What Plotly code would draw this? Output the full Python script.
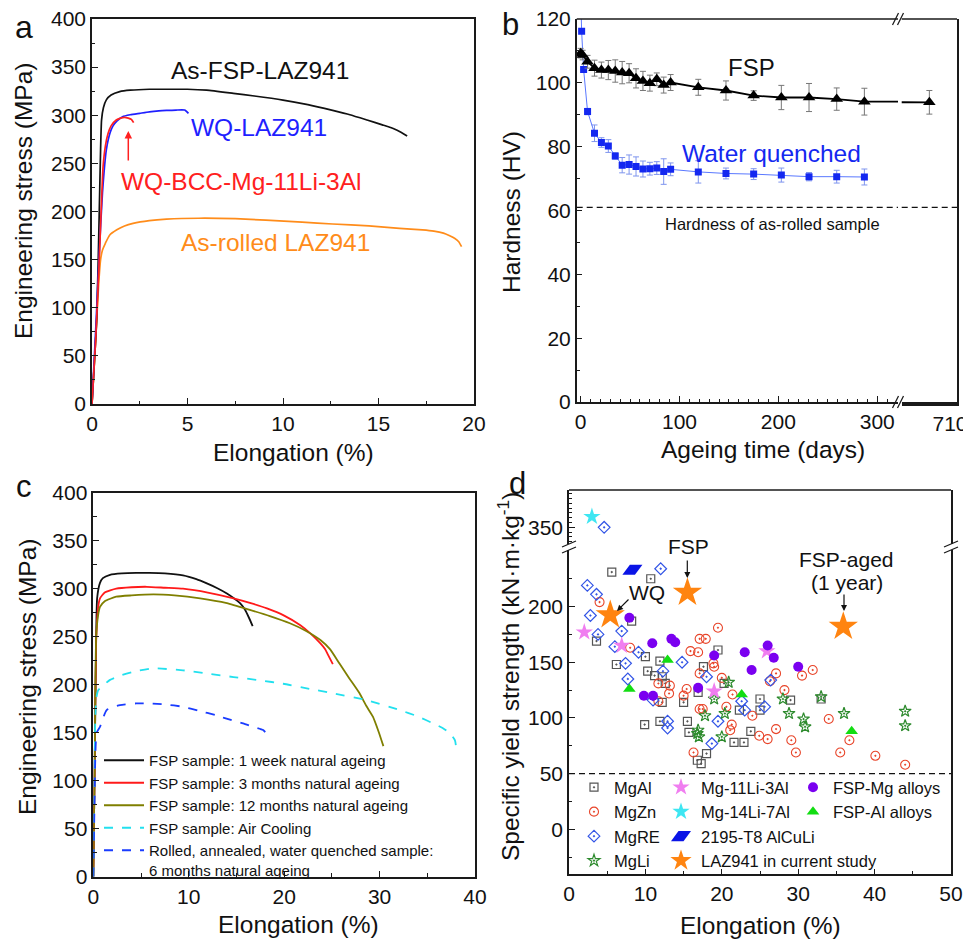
import plotly.graph_objects as go

W, H = 971, 940
OFF = 8                      # page body margin of the browser
FW, FH = W - OFF, H - OFF    # figure size so that it fills the window
FONT = "Liberation Sans, Arial, sans-serif"

# ---------------- Panel a : tensile curves ----------------
a_fsp_x = [0, 0.25, 0.38, 0.45, 0.5, 0.6, 0.75, 1.0, 1.45, 2, 3, 4, 5, 6, 7.4, 8.5, 10, 11.3, 12.6, 13.5, 14.4, 15.2, 15.8, 16.2, 16.5]
a_fsp_y = [0, 90, 200, 265, 295, 308, 316, 321, 324.5, 326, 327, 327, 327, 326, 322.7, 320, 315.8, 311, 305, 300.5, 295, 290, 286, 282, 278.4]
a_wq_x = [0, 0.2, 0.4, 0.55, 0.75, 0.95, 1.1, 1.3, 1.6, 2, 2.5, 3, 3.5, 3.9, 4.4, 4.85, 5.05]
a_wq_y = [0, 80, 165, 220, 264, 282, 289, 294, 298.5, 300.5, 302, 303.5, 304.5, 305, 305.4, 305.4, 302]
a_bcc_x = [0, 0.2, 0.4, 0.58, 0.7, 0.84, 1.0, 1.27, 1.5, 1.7, 1.9, 2.06, 2.18]
a_bcc_y = [0, 70, 160, 246.6, 268, 281, 289, 295, 297, 297.8, 297, 295.7, 292.3]
a_roll_x = [0, 0.2, 0.35, 0.45, 0.55, 0.7, 0.93, 1.3, 1.7, 2.15, 3, 3.9, 5.6, 7.5, 9.1, 11, 12.6, 14.5, 16.1, 17.3, 17.9, 18.4, 18.7, 19.0, 19.2, 19.35]
a_roll_y = [0, 70, 125, 150, 160, 167, 175.6, 181, 185, 187.7, 190.5, 192, 193, 192.5, 191, 189, 187, 185, 182.5, 181, 179.7, 177.5, 175, 172, 168.6, 163.5]

# ---------------- Panel b : hardness vs ageing time ----------------
b_fsp_days = [0, 2, 7, 14, 21, 28, 35, 42, 49, 56, 63, 70, 77, 84, 91, 119, 147, 175, 203, 231, 259, 287, 680]
b_fsp_hv = [109.3, 108.7, 106.6, 104.6, 104, 104, 103.7, 103.2, 103, 101.4, 100.6, 99.9, 101.1, 99.3, 100.1, 98.6, 97.6, 96, 95.4, 95.4, 94.9, 94.1, 93.9]
b_fsp_err = [1.5, 1.5, 2, 2.5, 2.5, 3, 3.5, 3.5, 3, 3, 3, 2.5, 2, 2.5, 2.5, 2.5, 3, 1.5, 3.8, 4.4, 3.5, 4.2, 3.7]
b_wq_days = [0, 1, 3, 7, 14, 21, 28, 35, 42, 49, 56, 63, 70, 77, 84, 91, 119, 147, 175, 203, 231, 259, 287]
b_wq_hv = [128, 116.2, 104.2, 91, 84.2, 81.3, 80.2, 77.1, 74.2, 74.4, 73.8, 73, 73.1, 73.3, 72.2, 72.9, 72.1, 71.6, 71.4, 71.1, 70.6, 70.6, 70.5]
b_wq_err = [0, 0, 0, 1, 2.6, 1.5, 2, 1, 2.4, 3, 3, 2.5, 2, 2, 4, 2, 3.5, 1.7, 1.7, 2.2, 1.3, 2, 2.5]
AS_ROLLED_HV = 61

# ---------------- Panel c : natural ageing tensile curves ----------------
c_w1_x = [0, 0.15, 0.3, 0.4, 0.7, 1.0, 1.75, 3, 4.5, 5.9, 7.5, 9.4, 10.8, 11.9, 13, 14, 14.8, 15.4, 15.9, 16.3, 16.7]
c_w1_y = [0, 120, 250, 290, 306, 311, 314.5, 316, 316.5, 316.5, 316, 314, 310, 305.5, 300.5, 295, 289.5, 284.7, 278, 270, 261]
c_m3_x = [0, 0.15, 0.3, 0.5, 0.7, 1.2, 2.4, 4, 5.6, 7.5, 9.4, 12, 14.7, 16.5, 18.2, 20, 21.7, 22.8, 23.8, 24.3, 24.6, 25.1]
c_m3_y = [0, 120, 245, 280, 290, 296, 300, 301.5, 302, 301, 300, 296, 290, 285, 279.5, 272, 262, 253, 243, 237, 231, 221.5]
c_m12_x = [0, 0.15, 0.3, 0.5, 0.7, 1.2, 2.4, 4, 6.3, 8.5, 11.2, 14, 16.4, 18.5, 20.6, 22.3, 23.8, 24.8, 25.8, 26.8, 27.9, 28.6, 29.3, 29.9, 30.4]
c_m12_y = [0, 120, 250, 272, 281, 287, 291.7, 293, 294, 293, 290, 285, 278, 271.5, 264, 256, 246.5, 237, 222, 207, 191, 178, 166.7, 151, 136]
c_ac_x = [0, 0.1, 0.2, 0.3, 0.5, 1, 1.75, 3, 4.2, 6.3, 9.4, 12, 14.7, 17.5, 19.9, 22.5, 25.1, 28.6, 32.1, 34, 35.6, 36.6, 37.4, 37.9, 38.1]
c_ac_y = [0, 80, 160, 185, 194, 199, 205, 210, 213.5, 217, 215, 211.5, 208, 204.5, 201, 196, 191, 184, 173.6, 167, 159.7, 155, 149, 142, 128]
c_rw_x = [0, 0.1, 0.2, 0.35, 0.7, 1.4, 2.8, 4.5, 5.9, 7.5, 9.4, 11, 12.9, 14.5, 15.7, 16.8, 17.8, 18.4]
c_rw_y = [0, 60, 120, 150, 156, 173.6, 178.8, 180.5, 180.5, 179.5, 177, 173, 168, 163, 159.7, 156, 152.8, 145.8]

# ---------------- Panel d : specific yield strength vs elongation ----------------
d_mgal_x = [5.6, 10.7, 3.6, 8.2, 6.2, 10.0, 11.9, 10.3, 11.2, 12.2, 12.6, 12.2, 15.0, 9.9, 11.9, 15.5, 15.7, 16.8, 17.3, 18.0, 16.9, 17.6, 19.5, 20.3, 22.3, 25.0, 25.0, 23.8, 21.6, 22.9, 29.0, 33.0]
d_mgal_y = [231, 225, 169, 187, 148, 155, 151, 142, 138, 137, 131, 114, 114, 94, 97, 97, 87, 62, 59, 68, 123, 146, 161, 131, 107, 117, 107, 88, 78, 78, 116, 117]
d_mgzn_x = [4.0, 8.0, 11.7, 11.7, 13.2, 13.1, 15.4, 15.0, 15.9, 16.9, 17.1, 17.9, 19.5, 17.1, 18.9, 19.0, 20.0, 21.4, 20.6, 21.3, 21.1, 17.1, 17.5, 16.3, 24.0, 27.1, 28.2, 27.1, 24.9, 26.0, 29.1, 29.7, 30.5, 31.9, 34.0, 36.7, 35.5, 40.1, 44.0, 26.3]
d_mgzn_y = [204, 163, 131, 115, 129, 122, 126, 120, 160, 159, 171, 171, 181, 140, 149, 146, 136, 121, 110, 94, 89, 108, 108, 69, 102, 140, 125, 90, 84, 81, 80, 69, 138, 143, 99, 80, 69, 66, 58, 133]
d_mgre_x = [4.6, 2.4, 3.6, 2.8, 3.8, 6.9, 6.0, 7.4, 7.7, 9.1, 12.0, 11.0, 12.3, 14.8, 12.9, 12.9, 18.0, 19.5, 18.7, 26.4, 23.0, 25.6, 22.6]
d_mgre_y = [350, 219, 211, 192, 175, 178, 164, 149, 135, 159, 234, 116, 142, 150, 97, 91, 137, 97, 77, 134, 107, 110, 115]
d_mgli_x = [20.9, 19.0, 17.8, 20.4, 20.0, 16.9, 17.0, 16.8, 28.0, 28.8, 30.7, 30.9, 33.0, 36.0, 44.0, 44.0]
d_mgli_y = [132, 117, 102, 104, 83, 89, 83, 86, 117, 104, 99, 92, 119, 104, 106, 93]
d_mg11_x = [2.0, 6.9, 19.0, 25.9]
d_mg11_y = [177, 165, 124, 160]
d_mg14_x = [3.0]
d_mg14_y = [361]
d_alculi_x = [8.3]
d_alculi_y = [233]
d_fspmg_x = [7.9, 10.9, 13.4, 13.9, 9.8, 11.0, 19.0, 16.9, 23.0, 23.9, 26.0, 26.8, 30.0]
d_fspmg_y = [190, 167, 171, 168, 120, 120, 156, 127, 159, 143, 165, 154, 146]
d_fspal_x = [12.9, 7.9, 22.6, 37.0]
d_fspal_y = [152, 126, 121, 88]
d_laz_x = [5.4, 15.5, 35.9]
d_laz_y = [192.5, 212.6, 182]
D_THRESHOLD = 50


def fx(p):
    return (p - OFF) / FW


def fy(p):
    return 1 - (p - OFF) / FH


fig = go.Figure()

# ---- panel a traces
for xs, ys, col in [(a_roll_x, a_roll_y, "#ff8c1a"), (a_fsp_x, a_fsp_y, "#111111"),
                    (a_wq_x, a_wq_y, "#1f1fff"), (a_bcc_x, a_bcc_y, "#ff2020")]:
    fig.add_trace(go.Scatter(x=xs, y=ys, mode="lines", xaxis="x", yaxis="y",
                             line=dict(color=col, width=1.7, shape="spline", smoothing=0.5),
                             showlegend=False, hoverinfo="skip"))

# ---- panel b traces (left and right of the axis break)
for xa, ya in [("x2", "y2"), ("x3", "y3")]:
    fig.add_trace(go.Scatter(x=b_wq_days, y=b_wq_hv, mode="lines+markers", xaxis=xa, yaxis=ya,
                             line=dict(color="#5a78ff", width=1),
                             marker=dict(symbol="square", size=7, color="#1428f0"),
                             error_y=dict(type="data", array=b_wq_err, color="#7f95ee", thickness=1, width=3),
                             showlegend=False, hoverinfo="skip"))
    fig.add_trace(go.Scatter(x=b_fsp_days, y=b_fsp_hv, mode="lines+markers", xaxis=xa, yaxis=ya,
                             line=dict(color="#000000", width=1.8),
                             marker=dict(symbol="triangle-up", size=11, color="#000000"),
                             error_y=dict(type="data", array=b_fsp_err, color="#777777", thickness=1, width=3),
                             showlegend=False, hoverinfo="skip"))

# ---- panel c traces
c_series = [
    (c_w1_x, c_w1_y, "#111111", "solid", "FSP sample: 1 week natural ageing"),
    (c_m3_x, c_m3_y, "#ff1a1a", "solid", "FSP sample: 3 months natural ageing"),
    (c_m12_x, c_m12_y, "#7f7f00", "solid", "FSP sample: 12 months natural ageing"),
    (c_ac_x, c_ac_y, "#22e0ee", "dash", "FSP sample: Air Cooling"),
    (c_rw_x, c_rw_y, "#1a3cff", "dash", "Rolled, annealed, water quenched sample:<br>6 months natural ageing"),
]
for xs, ys, col, dash, name in c_series:
    fig.add_trace(go.Scatter(x=xs, y=ys, mode="lines", xaxis="x4", yaxis="y4", name=name,
                             line=dict(color=col, width=1.8, dash=dash, shape="spline", smoothing=0.5),
                             legend="legend2", hoverinfo="skip"))

# ---- panel d traces (each drawn on the lower and the upper y segment)
d_series = [
    ("MgAl", d_mgal_x, d_mgal_y, dict(symbol="square-open-dot", size=8, color="#555555", line=dict(width=1.2)), "legend3"),
    ("MgZn", d_mgzn_x, d_mgzn_y, dict(symbol="circle-open-dot", size=9, color="#e8452a", line=dict(width=1.1)), "legend3"),
    ("MgRE", d_mgre_x, d_mgre_y, dict(symbol="diamond-open-dot", size=9, color="#3355e6", line=dict(width=1.2)), "legend3"),
    ("MgLi", d_mgli_x, d_mgli_y, dict(symbol="star-open-dot", size=9, color="#2e8b2e", line=dict(width=1.2)), "legend3"),
    ("Mg-11Li-3Al", d_mg11_x, d_mg11_y, dict(symbol="star", size=13, color="#f07ef0"), "legend4"),
    ("Mg-14Li-7Al", d_mg14_x, d_mg14_y, dict(symbol="star", size=13, color="#3ee6f2"), "legend4"),
    ("2195-T8 AlCuLi", d_alculi_x, d_alculi_y, dict(symbol="diamond-wide", size=16, color="#0a14e6", angle=-26.57), "legend4"),
    ("FSP-Mg alloys", d_fspmg_x, d_fspmg_y, dict(symbol="circle", size=10, color="#7a00f0"), "legend5"),
    ("FSP-Al alloys", d_fspal_x, d_fspal_y, dict(symbol="triangle-up", size=11, color="#12dd12"), "legend5"),
    ("LAZ941 in current study", d_laz_x, d_laz_y, dict(symbol="star", size=22, color="#ff8410"), "legend4"),
]
for name, xs, ys, mk, lg in d_series:
    fig.add_trace(go.Scatter(x=xs, y=ys, mode="markers", xaxis="x5", yaxis="y5", name=name,
                             marker=mk, legend=lg, hoverinfo="skip"))
    fig.add_trace(go.Scatter(x=xs, y=ys, mode="markers", xaxis="x5", yaxis="y6", name=name,
                             marker=mk, legend=lg, showlegend=False, hoverinfo="skip"))

LC = "#1a1a1a"


def axis(**kw):
    d = dict(showline=True, linecolor=LC, linewidth=1.5, ticks="inside", ticklen=6, tickwidth=1.3,
             tickcolor=LC, showgrid=False, zeroline=False, automargin=False, ticklabeloverflow="allow",
             tickfont=dict(size=21, family=FONT, color="#111111"))
    d.update(kw)
    return d


def minor(dt):
    return dict(dtick=dt, ticks="inside", ticklen=3.5, tickwidth=1.1, tickcolor=LC, showgrid=False)


LEG = dict(xanchor="left", yanchor="top", bgcolor="rgba(0,0,0,0)", borderwidth=0)

layout = dict(
    width=FW, height=FH, margin=dict(l=0, r=0, t=0, b=0, pad=0, autoexpand=False),
    paper_bgcolor="white", plot_bgcolor="rgba(0,0,0,0)",
    font=dict(family=FONT, color="#111111"),
    showlegend=True,
    xaxis=axis(domain=[fx(92), fx(474)], anchor="y", range=[0, 20], dtick=5, minor=minor(2.5), mirror=True),
    yaxis=axis(domain=[fy(404), fy(19)], anchor="x", range=[0, 400], dtick=50, minor=minor(25), mirror=True),
    xaxis2=axis(domain=[fx(576.7), fx(898)], anchor="y2", range=[-4, 321], tickvals=[0, 100, 200, 300],
                minor=minor(10)),
    yaxis2=axis(domain=[fy(402), fy(19)], anchor="x2", range=[0, 120], dtick=20, minor=minor(10)),
    xaxis3=axis(domain=[fx(901.7), fx(957)], anchor="y3", range=[650, 710], tickvals=[710], ticks="",
                linewidth=3.5, ticklabelshift=-7),
    yaxis3=axis(domain=[fy(402), fy(19)], anchor="x3", range=[0, 120], side="right", ticks="",
                showticklabels=False),
    xaxis4=axis(domain=[fx(93.3), fx(475)], anchor="y4", range=[0, 40], dtick=10, minor=minor(5), mirror=True),
    yaxis4=axis(domain=[fy(876.7), fy(492.7)], anchor="x4", range=[0, 400], dtick=50, minor=minor(25), mirror=True),
    xaxis5=axis(domain=[fx(569), fx(951)], anchor="y5", range=[0, 50], dtick=10, minor=minor(5)),
    yaxis5=axis(domain=[fy(874.3), fy(550)], anchor="x5", range=[-40.4, 250.8],
                tickvals=[0, 50, 100, 150, 200], minor=minor(25), mirror=True),
    yaxis6=axis(domain=[fy(544), fy(490)], anchor="x5", range=[332.7, 388.7], tickvals=[350],
                minor=minor(5), mirror=True),
    legend2=dict(x=fx(99), y=fy(744), font=dict(size=15, family=FONT, color="#111111"),
                 itemwidth=40, valign="top", **LEG),
    legend3=dict(x=fx(574), y=fy(770), font=dict(size=16.5, family=FONT, color="#111111"), **LEG),
    legend4=dict(x=fx(661), y=fy(770), font=dict(size=16.5, family=FONT, color="#111111"), **LEG),
    legend5=dict(x=fx(793), y=fy(770), font=dict(size=16.5, family=FONT, color="#111111"), **LEG),
)
fig.update_layout(**layout)

# ---- reference lines and frame pieces
shapes = [
    dict(type="line", xref="x2 domain", yref="y2", x0=0, x1=1, y0=AS_ROLLED_HV, y1=AS_ROLLED_HV,
         line=dict(color="#111111", width=1.3, dash="6px,4px")),
    dict(type="line", xref="x3 domain", yref="y3", x0=0, x1=1, y0=AS_ROLLED_HV, y1=AS_ROLLED_HV,
         line=dict(color="#111111", width=1.3, dash="6px,4px")),
    dict(type="line", xref="x2 domain", yref="y2 domain", x0=0, x1=1, y0=1, y1=1, line=dict(color=LC, width=1.5)),
    dict(type="line", xref="x3 domain", yref="y3 domain", x0=0, x1=1, y0=1, y1=1, line=dict(color=LC, width=1.5)),
    dict(type="line", xref="x5 domain", yref="y5", x0=0, x1=1, y0=D_THRESHOLD, y1=D_THRESHOLD,
         line=dict(color="#111111", width=1.3, dash="6px,4px")),
    dict(type="line", xref="x5 domain", yref="y6 domain", x0=0, x1=1, y0=1, y1=1, line=dict(color=LC, width=1.5)),
]
# axis-break marks
for cx, cy in [(898, 19), (898, 402)]:
    for off in (-2.5, 2.5):
        shapes.append(dict(type="line", xref="paper", yref="paper",
                           x0=fx(cx + off - 3), y0=fy(cy + 6), x1=fx(cx + off + 3), y1=fy(cy - 6),
                           line=dict(color=LC, width=1.3)))
for cx in (569, 951):
    for cy in (544, 550):
        shapes.append(dict(type="line", xref="paper", yref="paper",
                           x0=fx(cx - 7), y0=fy(cy + 3), x1=fx(cx + 7), y1=fy(cy - 3),
                           line=dict(color=LC, width=1.3)))
fig.update_layout(shapes=shapes)


def txt(x, y, s, size, color="#111111", angle=0):
    return dict(x=fx(x), y=fy(y), xref="paper", yref="paper", text=s, showarrow=False,
                xanchor="center", yanchor="middle", textangle=angle,
                font=dict(size=size, family=FONT, color=color))


def arrow(hx, hy, tx, ty, color="#111111", width=1.2):
    return dict(x=fx(hx), y=fy(hy), xref="paper", yref="paper", ax=tx - hx, ay=ty - hy,
                text="", showarrow=True, arrowhead=2, arrowsize=1, arrowwidth=width, arrowcolor=color)


TS = 24.5
annotations = [
    # panel letters
    txt(24, 27, "a", 32), txt(510, 24, "b", 31), txt(24, 486, "c", 31), txt(517, 483, "d", 31),
    # axis titles
    txt(293, 453, "Elongation (%)", TS), txt(23, 201, "Engineering stress (MPa)", TS, angle=-90),
    txt(763, 450, "Ageing time (days)", TS), txt(512, 212, "Hardness (HV)", TS, angle=-90),
    txt(298, 924, "Elongation (%)", TS), txt(27, 677, "Engineering stress (MPa)", TS, angle=-90),
    txt(760, 925, "Elongation (%)", TS),
    txt(508, 677, "Specific yield strength (kN·m·kg<sup>-1</sup>)", 24.5, angle=-90),
    # panel a labels
    txt(259.5, 70, "As-FSP-LAZ941", 24.5), txt(259, 128, "WQ-LAZ941", 24.5, "#1f1fff"),
    txt(241.7, 181, "WQ-BCC-Mg-11Li-3Al", 24.5, "#ff2020"), txt(275.8, 242, "As-rolled LAZ941", 24.5, "#ff8c1a"),
    arrow(128.3, 131, 128.3, 162, "#ff2020", 1.5),
    # panel b labels
    txt(751.7, 68, "FSP", 24), txt(771.3, 154, "Water quenched", 24.5, "#1428f0"),
    txt(772.8, 224, "Hardness of as-rolled sample", 16.5),
    # panel d labels
    txt(688, 546, "FSP", 21), arrow(687.3, 578, 687.3, 559),
    txt(646.7, 592, "WQ", 21), arrow(617, 611, 630, 598),
    txt(846.7, 559, "FSP-aged", 21), txt(846.7, 582, "(1 year)", 21),
    arrow(844, 611, 844, 593),
]
fig.update_layout(annotations=annotations)

fig.write_html("out.html")
